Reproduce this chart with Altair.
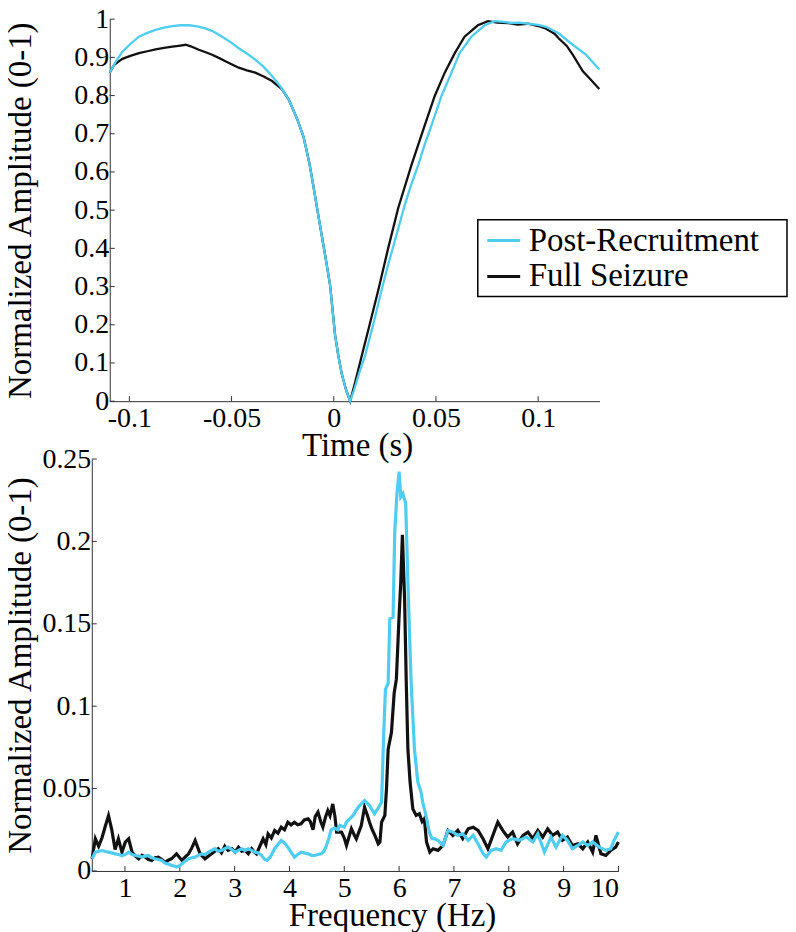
import altair as alt
import pandas as pd

CYAN = "#4fcdf0"
BLACK = "#111111"
FONT = "'Liberation Serif', 'Times New Roman', Times, 'DejaVu Serif', serif"
SERIES = ["Post-Recruitment", "Full Seizure"]

# ---- top panel: time domain (s) ----
pr_time = [-0.1096, -0.1065, -0.1034, -0.0995, -0.0953, -0.0912, -0.0872, -0.0830, -0.0790, -0.0750,
           -0.0709, -0.0668, -0.0628, -0.0587, -0.0546, -0.0505, -0.0465, -0.0425, -0.0384, -0.0343,
           -0.0302, -0.0260, -0.0221, -0.0180, -0.0148, -0.0120, -0.00995, -0.0080, -0.00585, -0.0040,
           -0.0018, 0.0006, 0.0022, 0.0039, 0.0060, 0.0080, 0.0100, 0.0125, 0.0153, 0.0195,
           0.0234, 0.0265, 0.0299, 0.0348, 0.0380, 0.0413, 0.0445, 0.0478, 0.0527, 0.0576,
           0.0616, 0.0673, 0.0738, 0.0787, 0.0830, 0.0870, 0.0910, 0.0950, 0.1000, 0.1039,
           0.1100, 0.1169, 0.1234, 0.1299]
pr_amp = [0.860, 0.890, 0.915, 0.935, 0.954, 0.964, 0.972, 0.978, 0.982, 0.984,
          0.984, 0.981, 0.976, 0.967, 0.954, 0.940, 0.924, 0.910, 0.894, 0.875,
          0.851, 0.823, 0.790, 0.740, 0.692, 0.625, 0.5625, 0.500, 0.433, 0.375,
          0.304, 0.175, 0.120, 0.0716, 0.030, 0.000, 0.030, 0.075, 0.119, 0.205,
          0.291, 0.355, 0.420, 0.515, 0.568, 0.618, 0.672, 0.722, 0.799, 0.860,
          0.911, 0.954, 0.984, 0.995, 0.993, 0.990, 0.991, 0.988, 0.985, 0.980,
          0.963, 0.933, 0.907, 0.868]

fs_time = [-0.1096, -0.1075, -0.1050, -0.1034, -0.0995, -0.0953, -0.0912, -0.0872, -0.0830, -0.0790,
           -0.0750, -0.0725, -0.0700, -0.0660, -0.0620, -0.0595, -0.0560, -0.0530, -0.0500, -0.0465,
           -0.0425, -0.0384, -0.0343, -0.0302, -0.0254, -0.0221, -0.0180, -0.0148, -0.0120, -0.00995,
           -0.0080, -0.00585, -0.0040, -0.0018, 0.0006, 0.0022, 0.0039, 0.0060, 0.0080, 0.0105,
           0.0137, 0.0180, 0.0218, 0.0266, 0.0315, 0.0380, 0.0445, 0.0494, 0.0543, 0.0592,
           0.0640, 0.0705, 0.0754, 0.0800, 0.0850, 0.0900, 0.0950, 0.1000, 0.1039, 0.1080,
           0.1100, 0.1140, 0.1169, 0.1218, 0.1260, 0.1299]
fs_amp = [0.860, 0.880, 0.890, 0.896, 0.904, 0.911, 0.916, 0.921, 0.925, 0.928,
          0.931, 0.933, 0.929, 0.920, 0.912, 0.907, 0.898, 0.890, 0.882, 0.873,
          0.866, 0.860, 0.850, 0.838, 0.817, 0.790, 0.740, 0.692, 0.625, 0.5625,
          0.500, 0.433, 0.375, 0.304, 0.175, 0.120, 0.0716, 0.030, 0.000, 0.050,
          0.119, 0.210, 0.291, 0.400, 0.505, 0.618, 0.722, 0.799, 0.860, 0.911,
          0.954, 0.984, 0.995, 0.991, 0.990, 0.986, 0.988, 0.982, 0.975, 0.962,
          0.950, 0.930, 0.907, 0.864, 0.840, 0.817]

# ---- bottom panel: spectrum (Hz) ----
pr_freq = [0.40, 0.46, 0.52, 0.58, 0.64, 0.70, 0.76, 0.82, 0.88, 0.945,
           1.006, 1.067, 1.13, 1.19, 1.25, 1.31, 1.37, 1.43, 1.49, 1.55,
           1.61, 1.67, 1.72, 1.76, 1.81, 1.85, 1.90, 1.94, 1.99, 2.04,
           2.10, 2.16, 2.22, 2.28, 2.34, 2.40, 2.46, 2.52, 2.58, 2.64,
           2.70, 2.76, 2.82, 2.88, 2.95, 3.01, 3.07, 3.13, 3.19, 3.25,
           3.31, 3.37, 3.43, 3.49, 3.55, 3.59, 3.65, 3.73, 3.79, 3.85,
           3.91, 3.97, 4.03, 4.09, 4.15, 4.21, 4.27, 4.34, 4.40, 4.46,
           4.52, 4.58, 4.63, 4.67, 4.72, 4.76, 4.82, 4.88, 4.92, 5.00,
           5.04, 5.10, 5.16, 5.22, 5.28, 5.37, 5.46, 5.55, 5.61, 5.68,
           5.72, 5.75, 5.80, 5.83, 5.89, 5.92, 5.96, 6.00, 6.03, 6.07,
           6.12, 6.16, 6.22, 6.28, 6.34, 6.40, 6.43, 6.49, 6.55, 6.60,
           6.64, 6.71, 6.80, 6.89, 6.98, 7.07, 7.16, 7.26, 7.35, 7.44,
           7.53, 7.59, 7.68, 7.77, 7.86, 7.95, 8.07, 8.19, 8.32, 8.44,
           8.53, 8.65, 8.77, 8.86, 8.98, 9.07, 9.16, 9.26, 9.35, 9.44,
           9.53, 9.65, 9.77, 9.86, 9.92, 10.0]
pr_spec = [0.0074, 0.0114, 0.0120, 0.0124, 0.0118, 0.0114, 0.0110, 0.0104, 0.0100, 0.0094,
           0.0100, 0.0114, 0.0100, 0.0094, 0.0090, 0.0084, 0.0090, 0.0094, 0.0080, 0.0074,
           0.0070, 0.0064, 0.0050, 0.0044, 0.0040, 0.0034, 0.0030, 0.0024, 0.0030, 0.0044,
           0.0060, 0.0074, 0.0080, 0.0084, 0.0095, 0.0104, 0.0100, 0.0114, 0.0125, 0.0135,
           0.0120, 0.0124, 0.0135, 0.0145, 0.0130, 0.0114, 0.0125, 0.0135, 0.0125, 0.0135,
           0.0125, 0.0114, 0.0110, 0.0095, 0.0070, 0.0064, 0.0085, 0.0135, 0.0160, 0.0185,
           0.0170, 0.0145, 0.0115, 0.0084, 0.0100, 0.0114, 0.0110, 0.0104, 0.0095, 0.0094,
           0.0100, 0.0104, 0.0120, 0.0150, 0.0200, 0.0250, 0.0260, 0.0250, 0.0277, 0.0266,
           0.0297, 0.0316, 0.0337, 0.0370, 0.0397, 0.0427, 0.0397, 0.0347, 0.0377, 0.0417,
           0.0840, 0.1100, 0.1140, 0.1530, 0.1540, 0.2050, 0.2290, 0.2424, 0.2270, 0.2290,
           0.2230, 0.1750, 0.1140, 0.0740, 0.0540, 0.0480, 0.0417, 0.0337, 0.0236, 0.0196,
           0.0196, 0.0186, 0.0155, 0.0246, 0.0236, 0.0216, 0.0226, 0.0186, 0.0216, 0.0165,
           0.0105, 0.0085, 0.0125, 0.0135, 0.0125, 0.0176, 0.0196, 0.0186, 0.0206, 0.0176,
           0.0226, 0.0115, 0.0206, 0.0145, 0.0216, 0.0186, 0.0135, 0.0155, 0.0176, 0.0155,
           0.0176, 0.0145, 0.0125, 0.0135, 0.0186, 0.0236]

fs_freq = [0.40, 0.46, 0.52, 0.58, 0.64, 0.70, 0.76, 0.82, 0.88, 0.945,
           1.006, 1.067, 1.13, 1.19, 1.25, 1.31, 1.37, 1.43, 1.49, 1.55,
           1.61, 1.67, 1.73, 1.79, 1.85, 1.94, 2.04, 2.10, 2.16, 2.22,
           2.28, 2.33, 2.37, 2.46, 2.52, 2.58, 2.64, 2.70, 2.76, 2.82,
           2.88, 2.95, 3.01, 3.07, 3.13, 3.19, 3.25, 3.31, 3.36, 3.40,
           3.46, 3.52, 3.57, 3.61, 3.67, 3.73, 3.79, 3.85, 3.91, 3.97,
           4.03, 4.09, 4.15, 4.21, 4.27, 4.34, 4.38, 4.43, 4.47, 4.52,
           4.57, 4.61, 4.66, 4.70, 4.74, 4.79, 4.83, 4.86, 4.95, 5.00,
           5.04, 5.08, 5.13, 5.18, 5.22, 5.27, 5.31, 5.37, 5.42, 5.46,
           5.51, 5.56, 5.62, 5.65, 5.68, 5.74, 5.77, 5.80, 5.86, 5.91,
           5.95, 6.00, 6.03, 6.06, 6.10, 6.13, 6.16, 6.20, 6.25, 6.31,
           6.37, 6.42, 6.46, 6.50, 6.56, 6.62, 6.71, 6.80, 6.89, 6.98,
           7.07, 7.16, 7.26, 7.35, 7.44, 7.53, 7.62, 7.71, 7.80, 7.89,
           7.98, 8.07, 8.16, 8.26, 8.35, 8.44, 8.53, 8.62, 8.71, 8.80,
           8.89, 8.98, 9.07, 9.16, 9.26, 9.35, 9.44, 9.53, 9.59, 9.68,
           9.77, 9.86, 9.95, 10.0]
fs_spec = [0.0074, 0.0195, 0.0150, 0.0200, 0.0270, 0.0336, 0.0250, 0.0130, 0.0195, 0.0114,
           0.0175, 0.0195, 0.0114, 0.0090, 0.0074, 0.0095, 0.0084, 0.0070, 0.0064, 0.0080,
           0.0084, 0.0070, 0.0054, 0.0065, 0.0074, 0.0104, 0.0064, 0.0085, 0.0104, 0.0140,
           0.0185, 0.0140, 0.0104, 0.0074, 0.0090, 0.0104, 0.0120, 0.0135, 0.0110, 0.0150,
           0.0125, 0.0135, 0.0115, 0.0145, 0.0120, 0.0125, 0.0105, 0.0135, 0.0115, 0.0104,
           0.0150, 0.0195, 0.0160, 0.0225, 0.0200, 0.0245, 0.0230, 0.0266, 0.0250, 0.0296,
           0.0280, 0.0296, 0.0280, 0.0286, 0.0310, 0.0316, 0.0300, 0.0250, 0.0330, 0.0357,
           0.0300, 0.0266, 0.0330, 0.0367, 0.0336, 0.0407, 0.0330, 0.0236, 0.0236, 0.0200,
           0.0155, 0.0200, 0.0256, 0.0220, 0.0195, 0.0240, 0.0276, 0.0387, 0.0340, 0.0296,
           0.0250, 0.0215, 0.0165, 0.0175, 0.0296, 0.0337, 0.0500, 0.0739, 0.0840, 0.1080,
           0.1164, 0.1550, 0.1750, 0.2040, 0.1650, 0.1150, 0.0739, 0.0540, 0.0377, 0.0337,
           0.0347, 0.0300, 0.0317, 0.0176, 0.0115, 0.0135, 0.0125, 0.0155, 0.0246, 0.0216,
           0.0246, 0.0196, 0.0256, 0.0266, 0.0246, 0.0196, 0.0135, 0.0216, 0.0296, 0.0246,
           0.0206, 0.0236, 0.0165, 0.0216, 0.0236, 0.0196, 0.0246, 0.0206, 0.0256, 0.0216,
           0.0236, 0.0186, 0.0206, 0.0155, 0.0165, 0.0135, 0.0176, 0.0115, 0.0216, 0.0105,
           0.0095, 0.0125, 0.0145, 0.0176]

time_ticks = [-0.1, -0.05, 0, 0.05, 0.1]
amp_ticks = [0, 0.1, 0.2, 0.3, 0.4, 0.5, 0.6, 0.7, 0.8, 0.9, 1]
freq_ticks = [1, 2, 3, 4, 5, 6, 7, 8, 9, 10]
spec_ticks = [0, 0.05, 0.1, 0.15, 0.2, 0.25]

TOP_W, TOP_H = 491, 383
BOT_W, BOT_H = 510, 413
BOT_SHIFT = 18
TICK = 5

top_pr = pd.DataFrame({"t": pr_time, "v": pr_amp, "series": SERIES[0]})
top_fs = pd.DataFrame({"t": fs_time, "v": fs_amp, "series": SERIES[1]})
bot_pr = pd.DataFrame({"f": pr_freq, "v": pr_spec, "series": SERIES[0]})
bot_fs = pd.DataFrame({"f": fs_freq, "v": fs_spec, "series": SERIES[1]})

label_expr = "toString(datum.value)"

x_top = alt.X("t:Q", scale=alt.Scale(domain=[-0.1096, 0.13], nice=False, zero=False),
              axis=alt.Axis(values=time_ticks, labelExpr=label_expr, title="Time (s)",
                            labelPadding=3, titleX=248, titleY=28))
y_top = alt.Y("v:Q", scale=alt.Scale(domain=[0, 1], nice=False, zero=False),
              axis=alt.Axis(values=amp_ticks, labelExpr=label_expr,
                            title="Normalized Amplitude (0-1)", labelPadding=1, titleX=-72))

legend = alt.Legend(orient="none", legendX=369, legendY=201, title=None,
                    strokeColor="black", fillColor="white", padding=3,
                    symbolType="stroke", symbolSize=1089, symbolStrokeWidth=3,
                    symbolOffset=5,
                    labelFont=FONT, labelFontSize=33, labelColor="black",
                    labelOffset=7, rowPadding=1, labelLimit=600,
                    labelExpr="datum.label + '\u2800'")
color_top = alt.Color("series:N", scale=alt.Scale(domain=SERIES, range=[CYAN, BLACK]), legend=legend)

top_black = alt.Chart(top_fs).mark_line(strokeWidth=2.3).encode(x=x_top, y=y_top, color=color_top)
top_cyan = alt.Chart(top_pr).mark_line(strokeWidth=2.3).encode(x=x_top, y=y_top, color=color_top)
top_xt = alt.Chart(pd.DataFrame({"t": time_ticks})).mark_rule(color="#333", strokeWidth=1).encode(
    x=x_top, y=alt.value(TOP_H - TICK), y2=alt.value(TOP_H))
top_yt = alt.Chart(pd.DataFrame({"v": amp_ticks})).mark_rule(color="#333", strokeWidth=1).encode(
    y=y_top, x=alt.value(0), x2=alt.value(TICK))
top = alt.layer(top_xt, top_yt, top_black, top_cyan).properties(width=TOP_W, height=TOP_H)

x_bot = alt.X("f:Q", scale=alt.Scale(domain=[0.395, 10], range=[-BOT_SHIFT, BOT_W], nice=False, zero=False),
              axis=alt.Axis(values=freq_ticks, labelExpr=label_expr, title="Frequency (Hz)",
                            labelPadding=4, titleX=283, titleY=29))
y_bot = alt.Y("v:Q", scale=alt.Scale(domain=[0, 0.25], nice=False, zero=False),
              axis=alt.Axis(values=spec_ticks, labelExpr=label_expr, offset=BOT_SHIFT,
                            title="Normalized Amplitude (0-1)", labelPadding=1, titleX=-54))
color_bot = alt.Color("series:N", scale=alt.Scale(domain=SERIES, range=[CYAN, BLACK]), legend=None)

bot_black = alt.Chart(bot_fs).mark_line(strokeWidth=3.2).encode(x=x_bot, y=y_bot, color=color_bot)
bot_cyan = alt.Chart(bot_pr).mark_line(strokeWidth=3.2).encode(x=x_bot, y=y_bot, color=color_bot)
bot_xt = alt.Chart(pd.DataFrame({"f": freq_ticks})).mark_rule(color="#333", strokeWidth=1).encode(
    x=x_bot, y=alt.value(BOT_H - TICK), y2=alt.value(BOT_H))
bot_yt = alt.Chart(pd.DataFrame({"v": spec_ticks})).mark_rule(color="#333", strokeWidth=1).encode(
    y=y_bot, x=alt.value(-BOT_SHIFT), x2=alt.value(-BOT_SHIFT + TICK))
bottom = alt.layer(bot_xt, bot_yt, bot_black, bot_cyan).properties(width=BOT_W, height=BOT_H)

chart = alt.vconcat(top, bottom, spacing=58, bounds="flush").resolve_scale(
    color="independent"
).properties(
    padding={"left": -4, "top": -4, "right": 0, "bottom": 0}
).configure_view(stroke=None).configure_axis(
    labelFont=FONT, labelFontSize=28, labelColor="black",
    titleFont=FONT, titleFontSize=33, titleFontWeight="normal", titleColor="black",
    domainColor="#333", domainWidth=1, ticks=False, tickSize=0, grid=False
).configure_legend(strokeWidth=1.5)

chart.save("out.html", embed_options={"renderer": "svg", "actions": False})
